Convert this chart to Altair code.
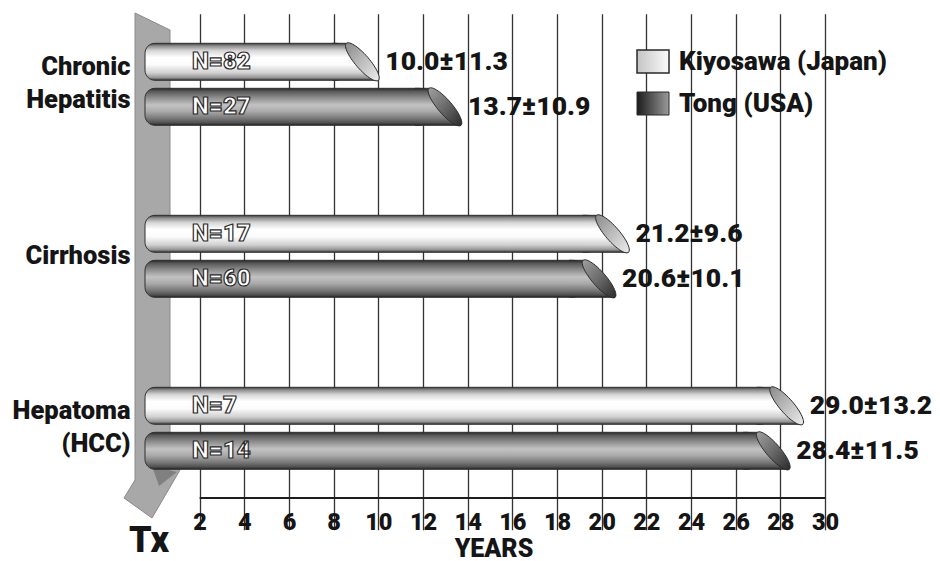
import math
import pandas as pd
import altair as alt

# ---- data -------------------------------------------------------------
categories = ["Chronic|Hepatitis", "Cirrhosis", "Hepatoma|(HCC)"]
series = ["Kiyosawa (Japan)", "Tong (USA)"]
kiyosawa_mean = [10.0, 21.2, 29.0]
kiyosawa_sd = [11.3, 9.6, 13.2]
kiyosawa_n = [82, 17, 7]
tong_mean = [13.7, 20.6, 28.4]
tong_sd = [10.9, 10.1, 11.5]
tong_n = [27, 60, 14]
year_ticks = list(range(2, 31, 2))

rows = []
for name, means, sds, ns in [
    (series[0], kiyosawa_mean, kiyosawa_sd, kiyosawa_n),
    (series[1], tong_mean, tong_sd, tong_n),
]:
    for cat, m, sd, n in zip(categories, means, sds, ns):
        rows.append(dict(category=cat, series=name, start=0, mean=m,
                         value_label=f"{m:.1f}\u00b1{sd:.1f}", n_label=f"N={n}"))
df = pd.DataFrame(rows)
one = pd.DataFrame({"k": [0]})

FONT = "Roboto"
WEIGHT = 900
INK = "#151515"


def grad(stops, horizontal=False, diagonal=False):
    g = {"gradient": "linear",
         "stops": [{"offset": o, "color": c} for o, c in stops],
         "x1": 0, "y1": 0, "x2": 0, "y2": 1}
    if horizontal:
        g.update(x2=1, y2=0)
    if diagonal:
        g.update(x2=1, y2=1)
    return g


def path_str(pts, close=True):
    s = "M " + " L ".join(f"{x:.2f} {y:.2f}" for x, y in pts)
    return s + (" Z" if close else "")


# cylinder styling
body_fill = {
    series[0]: grad([(0, "#3a3a3a"), (0.07, "#8d8d8d"), (0.2, "#d6d6d6"), (0.38, "#ffffff"),
                     (0.58, "#fbfbfb"), (0.8, "#d0d0d0"), (0.93, "#959595"), (1, "#333333")]),
    series[1]: grad([(0, "#262626"), (0.08, "#585858"), (0.25, "#8c8c8c"), (0.45, "#c2c2c2"),
                     (0.62, "#ababab"), (0.82, "#767676"), (0.94, "#4e4e4e"), (1, "#202020")]),
}
face_fill = {
    series[0]: grad([(0, "#8a8a8a"), (0.5, "#bdbdbd"), (1, "#ececec")], diagonal=True),
    series[1]: grad([(0, "#a0a0a0"), (0.5, "#6a6a6a"), (1, "#2a2a2a")], diagonal=True),
}

# slanted elliptical end face (pixel units around its centre)
half_w, half_h, minor = 16.0, 18.5, 7.0
major = math.hypot(half_w, half_h)
ux, uy = half_w / major, half_h / major
vx, vy = -uy, ux
ellipse = []
for k in range(60):
    t = 2 * math.pi * k / 60
    ellipse.append((major * math.cos(t) * ux + minor * math.sin(t) * vx,
                    major * math.cos(t) * uy + minor * math.sin(t) * vy))
ELLIPSE = path_str(ellipse)
# body piece joining the flat part to the slanted end (open: no stroke on the left side)
WEDGE = path_str([(-30, -half_h), (-half_w, -half_h), (half_w, half_h), (-30, half_h)], close=False)

# ---- shared encodings ---------------------------------------------------
y_enc = alt.Y(
    "category:N",
    scale=alt.Scale(domain=categories, range=[-31.7, 484.3], paddingInner=0, paddingOuter=0),
    axis=alt.Axis(title=None, domain=False, ticks=False, tickSize=0, grid=False,
                  labelPadding=25, labelFont=FONT, labelFontSize=25.5, labelFontWeight=WEIGHT,
                  labelColor=INK, labelLineHeight=33, labelAlign="right", labelBaseline="middle",
                  labelOffset={"condition": {"test": "indexof(datum.value, '|') >= 0", "value": -17},
                               "value": 0},
                  labelExpr="split(datum.label, '|')"),
)
yo_enc = alt.YOffset("series:N", scale=alt.Scale(domain=series, paddingInner=0.178, paddingOuter=1))
x_scale = alt.Scale(domain=[0, 30], nice=False, zero=False)
x_axis = alt.Axis(values=year_ticks, grid=True, gridColor="#333333", gridWidth=1.3,
                  domain=False, ticks=False, tickSize=0, labelPadding=12,
                  labelFont=FONT, labelFontSize=23.5, labelFontWeight=WEIGHT, labelColor=INK,
                  labelFlush=False, labelOverlap=False,
                  title="YEARS", titleFont=FONT, titleFontSize=25, titleFontWeight=WEIGHT,
                  titleColor=INK, titleX=338.5, titleY=50, titleBaseline="middle")


def xq(field):
    return alt.X(f"{field}:Q", scale=x_scale, axis=x_axis)


base = alt.Chart(df)
layers = []

# treatment arrow behind the bars
ARROW = path_str([(-20, -17), (15, 0), (15, 436), (25, 440), (-3, 488), (-31, 468), (-20, 450)])
ARROW_SHADE = path_str([(-3, 436), (22, 442), (4, 456)])
layers.append(alt.Chart(one).mark_point(shape=ARROW, size=4, filled=True, fill="#a8a8a8",
                                        stroke="#8a8a8a", strokeWidth=1, opacity=1)
              .encode(x=alt.value(0), y=alt.value(0)))
layers.append(alt.Chart(one).mark_point(shape=ARROW_SHADE, size=4, filled=True, fill="#808080",
                                        strokeWidth=0, opacity=1)
              .encode(x=alt.value(0), y=alt.value(0)))
layers.append(alt.Chart(one).mark_text(text="Tx", font=FONT, fontSize=36, fontWeight=WEIGHT,
                                       color=INK, align="center", baseline="middle")
              .encode(x=alt.value(-6), y=alt.value(511)))

# x axis line from 2 to 30 years
layers.append(alt.Chart(one).mark_rule(color="#1e1e1e", strokeWidth=2)
              .encode(x=alt.datum(2, scale=x_scale), x2=alt.datum(30), y=alt.value(468)))

# legend
legend_swatch = {
    series[0]: grad([(0, "#c4c4c4"), (1, "#fbfbfb")], horizontal=True),
    series[1]: grad([(0, "#1c1c1c"), (1, "#9a9a9a")], horizontal=True),
}
for i, (name, y0) in enumerate([(series[0], 20), (series[1], 62)]):
    layers.append(alt.Chart(one).mark_rect(fill=legend_swatch[name], stroke="#2a2a2a",
                                           strokeWidth=1.5 if i == 0 else 1)
                  .encode(x=alt.value(482), x2=alt.value(514), y=alt.value(y0), y2=alt.value(y0 + 23)))
    layers.append(alt.Chart(one).mark_text(text=name, font=FONT, fontSize=26, fontWeight=WEIGHT,
                                           color=INK, align="left", baseline="alphabetic")
                  .encode(x=alt.value(524), y=alt.value(y0 + 20)))

# cylinders
for name in series:
    part = base.transform_filter(alt.datum.series == name)
    layers.append(part.mark_bar(fill=body_fill[name], stroke="#303030", strokeWidth=1,
                                cornerRadius=10, xOffset=-10, x2Offset=-32)
                  .encode(x=xq("start"), x2="mean:Q", y=y_enc, yOffset=yo_enc))
    layers.append(part.mark_point(shape=WEDGE, size=4, filled=True, fill=body_fill[name],
                                  stroke="#303030", strokeWidth=1, opacity=1, xOffset=-16)
                  .encode(x=xq("mean"), y=y_enc, yOffset=yo_enc))
    layers.append(part.mark_point(shape=ELLIPSE, size=4, filled=True, fill=face_fill[name],
                                  stroke="#2a2a2a", strokeWidth=1, opacity=1, xOffset=-16)
                  .encode(x=xq("mean"), y=y_enc, yOffset=yo_enc))

# sample sizes inside the bars, outlined white lettering
layers.append(base.mark_text(font=FONT, fontSize=24, fontWeight=WEIGHT, fill="white",
                             stroke="#2a2a2a", strokeWidth=1.2, align="left", baseline="middle", dx=37)
              .encode(x=xq("start"), y=y_enc, yOffset=yo_enc, text="n_label:N"))
# mean ± SD at the bar ends
layers.append(base.mark_text(font=FONT, fontSize=26.5, fontWeight=WEIGHT, color=INK,
                             align="left", baseline="middle", dx=7)
              .encode(x=xq("mean"), y=y_enc, yOffset=yo_enc, text="value_label:N"))

chart = alt.layer(*layers).properties(
    width=670, height=468,
    autosize=alt.AutoSizeParams(type="none"),
    padding={"left": 155, "top": 30, "right": 115, "bottom": 63},
    background="white",
).configure_view(stroke=None)

chart.save("out.html", embed_options={"renderer": "svg", "actions": False})
